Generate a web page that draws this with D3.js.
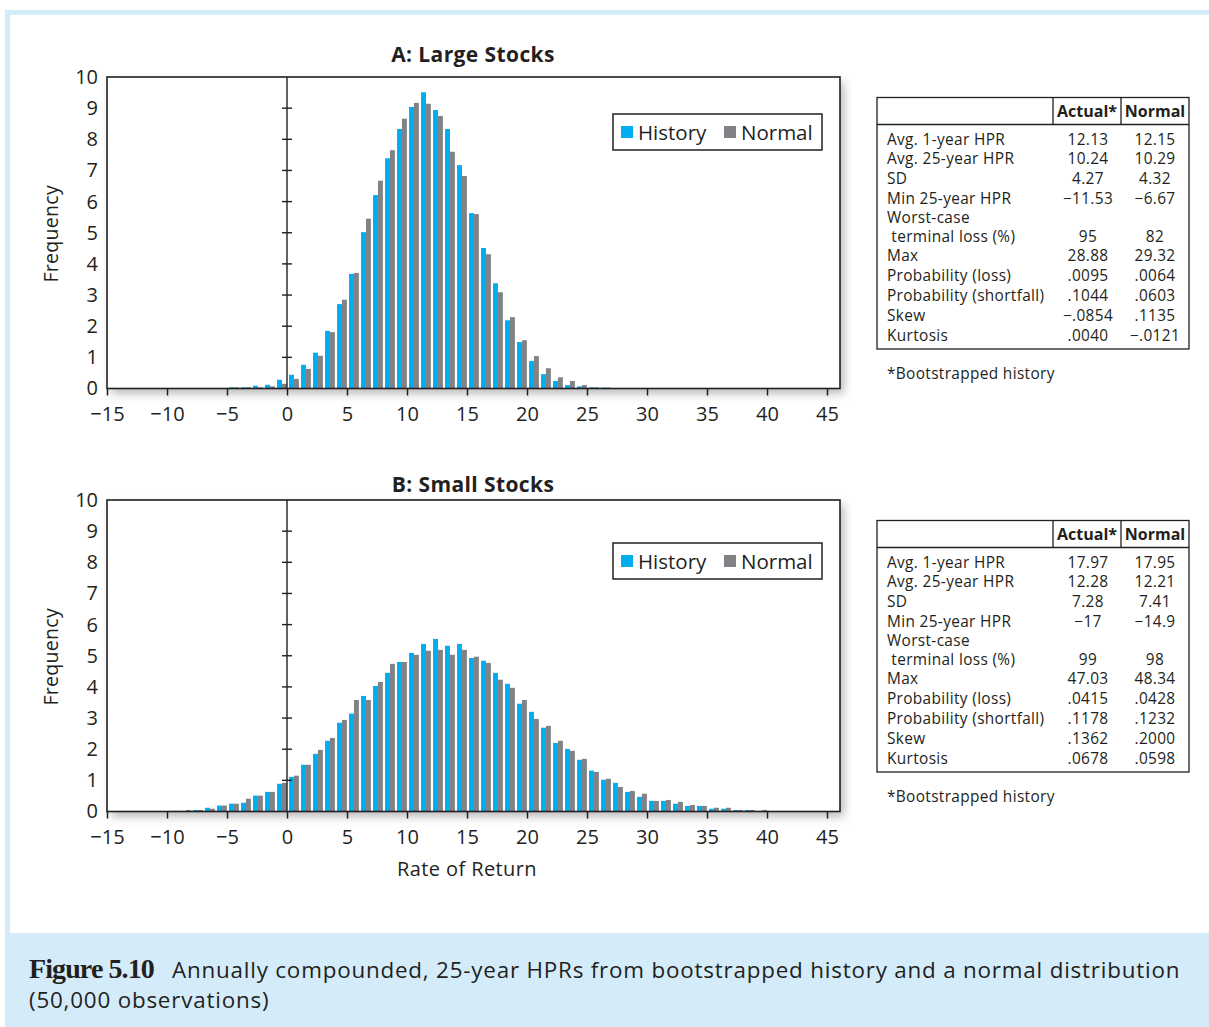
<!DOCTYPE html>
<html><head><meta charset="utf-8">
<script src="https://cdn.jsdelivr.net/npm/d3@7/dist/d3.min.js"></script>
<style>
html,body{margin:0;padding:0;background:#fff;}
svg{display:block;}
text{font-family:"Open Sans","Noto Sans",sans-serif;fill:#231f20;}
</style></head>
<body>
<svg id="chart" width="1209" height="1027"></svg>
<script>
// ---------- DATA ----------
const binsA = d3.range(-5, 27);
const historyA = [0.04,0.04,0.09,0.12,0.28, 0.44,0.76,1.15,1.85,2.71, 3.68,5.02,6.21,7.39,8.33,
  9.04,9.51,8.94,8.33,7.17, 5.63,4.51,3.38,2.19,1.49, 0.88,0.46,0.24,0.11,0.07, 0.04,0.03];
const normalA = [0.04,0.04,0.04,0.07,0.15, 0.31,0.63,1.05,1.81,2.85, 3.71,5.45,6.67,7.65,8.66,
  9.17,9.14,8.75,7.60,6.82, 5.60,4.31,3.09,2.29,1.55, 1.04,0.65,0.36,0.24,0.11, 0.04,0.03];

const binsB = d3.range(-10, 41);
const historyB = [0.02,0.02,0.05,0.12,0.19,0.25,0.28,0.51,0.63,0.89,
  1.11,1.50,1.85,2.27,2.85,3.14,3.71,4.03,4.45,4.80,
  5.09,5.38,5.54,5.32,5.38,4.93,4.84,4.45,4.10,3.46,
  3.20,2.69,2.20,2.01,1.66,1.31,1.02,0.92,0.63,0.47,
  0.34,0.34,0.25,0.18,0.18,0.09,0.09,0.05,0.05,0.02,0.01];
const normalB = [0.02,0.05,0.05,0.09,0.19,0.25,0.41,0.51,0.63,0.92,
  1.15,1.50,1.98,2.36,2.94,3.58,3.58,4.16,4.74,4.80,
  5.03,5.16,5.19,5.03,5.19,4.97,4.77,4.23,3.97,3.58,
  2.97,2.75,2.27,1.95,1.69,1.27,1.05,0.79,0.66,0.57,
  0.34,0.37,0.31,0.21,0.18,0.12,0.12,0.05,0.05,0.05,0.01];

const xTicks = [-15,-10,-5,0,5,10,15,20,25,30,35,40,45];
const yTicks = [0,1,2,3,4,5,6,7,8,9,10];
const seriesNames = ["History","Normal"];

const statLabels = ["Avg. 1-year HPR","Avg. 25-year HPR","SD","Min 25-year HPR",
  "Worst-case\n terminal loss (%)","Max","Probability (loss)","Probability (shortfall)","Skew","Kurtosis"];
const tableHeaders = ["Actual*","Normal"];
const actualA = ["12.13","10.24","4.27","\u221211.53","95","28.88",".0095",".1044","\u2212.0854",".0040"];
const normA   = ["12.15","10.29","4.32","\u22126.67","82","29.32",".0064",".0603",".1135","\u2212.0121"];
const actualB = ["17.97","12.28","7.28","\u221217","99","47.03",".0415",".1178",".1362",".0678"];
const normB   = ["17.95","12.21","7.41","\u221214.9","98","48.34",".0428",".1232",".2000",".0598"];
const tableNote = "*Bootstrapped history";

const panelTitles = ["A: Large Stocks","B: Small Stocks"];
const yLabel = "Frequency";
const xLabel = "Rate of Return";
const captionBold = "Figure 5.10";
const captionLine1 = "Annually compounded, 25-year HPRs from bootstrapped history and a normal distribution";
const captionLine2 = "(50,000 observations)";

// ---------- STYLE ----------
const BLUE = "#00aeef", GRAY = "#808285", INK = "#231f20", FRAME_BLUE = "#d4ecfa";
const TFS = "15.4px";

const svg = d3.select("#chart");
const defs = svg.append("defs");
const f = defs.append("filter").attr("id","shadow").attr("x","-5%").attr("y","-5%").attr("width","112%").attr("height","125%");
f.append("feDropShadow").attr("dx",4).attr("dy",5).attr("stdDeviation",5)
  .attr("flood-color","#000").attr("flood-opacity",0.28);

// background frame
svg.append("rect").attr("x",5).attr("y",10).attr("width",1204).attr("height",1017).attr("fill",FRAME_BLUE);
svg.append("rect").attr("x",10).attr("y",15).attr("width",1199).attr("height",918).attr("fill","#fff");

// caption
const cap = svg.append("text").attr("x",29).attr("y",978);
cap.append("tspan").text(captionBold)
  .style("font-family",'"Liberation Serif","DejaVu Serif",serif').style("font-weight","bold")
  .style("font-size","28px").attr("letter-spacing","-0.9");
cap.append("tspan").attr("x",172).text(captionLine1).style("font-size","22.4px").attr("letter-spacing","0.8");
svg.append("text").attr("x",29).attr("y",1008).text(captionLine2).style("font-size","22.4px").attr("letter-spacing","0.8");

function drawPanel(dy, titleY, legendY, title, bins, hist, norm, actual, normal, showXLabel){
  const left = 107, right = 840, top = 77 + dy, bottom = 388.5 + dy;
  const x = d3.scaleLinear().domain([-15, -15 + (right-left)/12]).range([left, right]);
  const y = d3.scaleLinear().domain([0,10]).range([bottom, top]);
  const g = svg.append("g");

  // frame with shadow
  g.append("rect").attr("x",left).attr("y",top).attr("width",right-left).attr("height",bottom-top)
    .attr("fill","#fff").attr("filter","url(#shadow)");

  // bars
  const data = bins.map((b,i)=>({b, h:hist[i], n:norm[i]}));
  const w = (x(1)-x(0));
  g.selectAll(".hb").data(data).join("rect")
    .attr("x",d=>x(d.b)+w*0.17).attr("width",w*0.41)
    .attr("y",d=>y(d.h)).attr("height",d=>y(0)-y(d.h)).attr("fill",BLUE);
  g.selectAll(".nb").data(data).join("rect")
    .attr("x",d=>x(d.b)+w*0.58).attr("width",w*0.41)
    .attr("y",d=>y(d.n)).attr("height",d=>y(0)-y(d.n)).attr("fill",GRAY);

  // frame lines
  g.append("rect").attr("x",left).attr("y",top).attr("width",right-left).attr("height",bottom-top)
    .attr("fill","none").attr("stroke",INK).attr("stroke-width",1.6);

  // zero line with crossing ticks
  g.append("line").attr("x1",x(0)).attr("x2",x(0)).attr("y1",top).attr("y2",bottom)
    .attr("stroke",INK).attr("stroke-width",1.4);
  g.selectAll(".yt").data(yTicks.slice(1,-1)).join("line")
    .attr("x1",x(0)-5).attr("x2",x(0)+5).attr("y1",d=>y(d)).attr("y2",d=>y(d))
    .attr("stroke",INK).attr("stroke-width",1.4);

  // x axis
  const xa = g.append("g").attr("transform",`translate(0,${bottom})`)
    .call(d3.axisBottom(x).tickValues(xTicks).tickSize(7).tickPadding(11)
      .tickFormat(d=> d<0 ? "\u2212"+Math.abs(d) : String(d)));
  xa.select(".domain").remove();
  xa.selectAll("line").attr("stroke",INK).attr("stroke-width",1.5);
  xa.selectAll("text").style("font-size","20px").style("font-family",'"Open Sans",sans-serif').attr("fill",INK);

  // y axis labels
  const ya = g.append("g").attr("transform",`translate(${left},0)`)
    .call(d3.axisLeft(y).tickValues(yTicks).tickSize(0).tickPadding(9));
  ya.select(".domain").remove();
  ya.selectAll("text").style("font-size","20px").style("font-family",'"Open Sans",sans-serif').attr("fill",INK);

  // titles
  g.append("text").attr("x",473).attr("y",titleY).attr("text-anchor","middle")
    .style("font-weight","bold").style("font-size","21px").attr("letter-spacing","0.4").text(title);
  g.append("text").attr("transform",`translate(58,${(top+bottom)/2+1}) rotate(-90)`)
    .attr("text-anchor","middle").style("font-size","19.5px").attr("letter-spacing","0.3").text(yLabel);
  if(showXLabel){
    g.append("text").attr("x",467).attr("y",bottom+64).attr("text-anchor","middle")
      .style("font-size","20px").attr("letter-spacing","0.4").text(xLabel);
  }

  // legend
  const lg = g.append("g").attr("transform",`translate(613,${legendY})`);
  lg.append("rect").attr("width",209).attr("height",36).attr("fill","#fff")
    .attr("stroke",INK).attr("stroke-width",1.5);
  const colors = [BLUE, GRAY];
  const lx = [8, 111];
  seriesNames.forEach((s,i)=>{
    lg.append("rect").attr("x",lx[i]).attr("y",12).attr("width",12).attr("height",12).attr("fill",colors[i]);
    lg.append("text").attr("x",lx[i]+17).attr("y",25.5).style("font-size","20.5px").text(s);
  });

  // stats table
  const tg = g.append("g").attr("transform",`translate(0,${dy})`);
  const tl = 877, tr = 1189, tt = 97.5, th = 124.5, tb = 349, c1 = 1053, c2 = 1121;
  tg.append("rect").attr("x",tl).attr("y",tt).attr("width",tr-tl).attr("height",tb-tt)
    .attr("fill","#fff").attr("stroke",INK).attr("stroke-width",1.3);
  tg.append("line").attr("x1",tl).attr("x2",tr).attr("y1",th).attr("y2",th).attr("stroke",INK).attr("stroke-width",1.3);
  [c1,c2].forEach(cx=>tg.append("line").attr("x1",cx).attr("x2",cx).attr("y1",tt).attr("y2",th).attr("stroke",INK).attr("stroke-width",1.3));
  tg.append("text").attr("x",(c1+c2)/2).attr("y",117).attr("text-anchor","middle")
    .style("font-weight","bold").style("font-size","16px").text(tableHeaders[0]);
  tg.append("text").attr("x",(c2+tr)/2).attr("y",117).attr("text-anchor","middle")
    .style("font-weight","bold").style("font-size","16px").text(tableHeaders[1]);
  const rowY = [144.5,164,184,203.5,241.5,261,281,301,320.5,340.5];
  const addT = (xx, yy, s, anchor) => tg.append("text").attr("x",xx).attr("y",yy)
      .attr("text-anchor",anchor||"start").style("font-size",TFS).attr("letter-spacing","0.35").text(s);
  statLabels.forEach((lab,i)=>{
    const lines = lab.split("\n");
    if(lines.length>1){
      addT(887, rowY[i]-19, lines[0]);
      addT(887, rowY[i], "\u00a0"+lines[1].trim());
    } else {
      addT(887, rowY[i], lab);
    }
    addT(1088, rowY[i], actual[i], "middle");
    addT(1155, rowY[i], normal[i], "middle");
  });
  addT(887, 379, tableNote);
}

drawPanel(0, 62, 114, panelTitles[0], binsA, historyA, normalA, actualA, normA, false);
drawPanel(423, 492, 543, panelTitles[1], binsB, historyB, normalB, actualB, normB, true);
</script>
</body></html>
